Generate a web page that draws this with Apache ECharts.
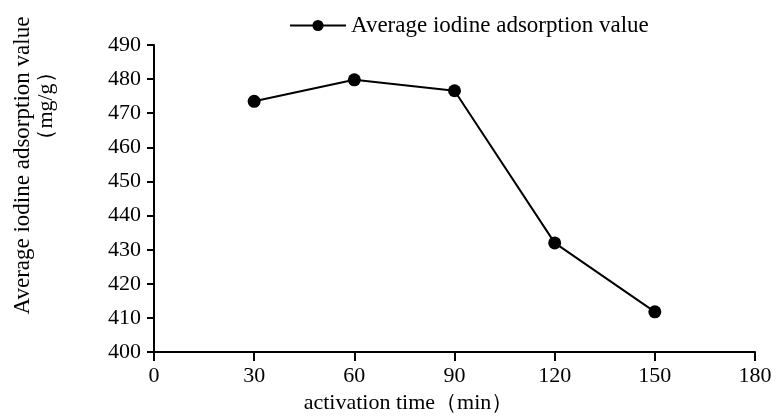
<!DOCTYPE html>
<html>
<head>
<meta charset="utf-8">
<script src="https://cdn.jsdelivr.net/npm/echarts@6/dist/echarts.min.js"></script>
<style>
  html, body { margin: 0; padding: 0; background: #fff; }
  #chart { width: 776px; height: 419px; }
</style>
</head>
<body>
<div id="chart"></div>
<script>
// activation time (min) and average iodine adsorption value (mg/g)
var times = [30, 60, 90, 120, 150];
var iodineValues = [473.5, 479.8, 476.6, 432.0, 411.8];
var seriesName = 'Average iodine adsorption value';

var font = '"Liberation Serif", "Times New Roman", serif';
var chart = echarts.init(document.getElementById('chart'));

chart.setOption({
  animation: false,
  backgroundColor: '#fff',
  textStyle: { fontFamily: font, color: '#000' },
  grid: { left: 154, right: 21, top: 45, bottom: 63 },
  legend: {
    left: 284, top: 9,
    itemWidth: 56, itemHeight: 14,
    itemGap: 6,
    textStyle: { fontFamily: font, fontSize: 23, color: '#000' },
    data: [seriesName]
  },
  xAxis: {
    type: 'value',
    min: 0, max: 180, interval: 30,
    name: 'activation time（min）',
    nameLocation: 'middle',
    nameGap: 30,
    nameTextStyle: { fontFamily: font, fontSize: 22, color: '#000', padding: [0, 92, 0, 0] },
    axisLine: { lineStyle: { color: '#000', width: 2 } },
    axisTick: { length: 9, lineStyle: { color: '#000', width: 2 } },
    axisLabel: { fontFamily: font, fontSize: 22, color: '#000', margin: 13 },
    splitLine: { show: false }
  },
  yAxis: {
    type: 'value',
    min: 400, max: 490, interval: 10,
    name: 'Average iodine adsorption value',
    nameLocation: 'middle',
    nameGap: 120,
    nameTextStyle: { fontFamily: font, fontSize: 23, color: '#000', padding: [0, 0, 0, 66] },
    axisLine: { show: true, lineStyle: { color: '#000', width: 2 } },
    axisTick: { show: true, length: 7, lineStyle: { color: '#000', width: 2 } },
    axisLabel: { fontFamily: font, fontSize: 22, color: '#000', margin: 13 },
    splitLine: { show: false }
  },
  graphic: [{
    type: 'text',
    x: 46, y: 106,
    rotation: Math.PI / 2,
    style: {
      text: '（mg/g）',
      fontFamily: font,
      fontSize: 22,
      fill: '#000',
      align: 'center',
      verticalAlign: 'middle'
    }
  }],
  series: [{
    name: seriesName,
    type: 'line',
    data: times.map(function (t, i) { return [t, iodineValues[i]]; }),
    symbol: 'circle',
    symbolSize: 13,
    itemStyle: { color: '#000' },
    lineStyle: { color: '#000', width: 2 }
  }]
});
</script>
</body>
</html>
